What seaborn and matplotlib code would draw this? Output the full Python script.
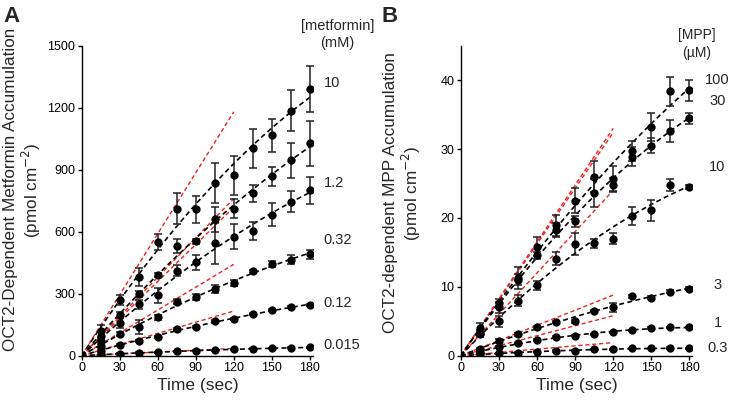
import numpy as np
import pandas as pd
import matplotlib
matplotlib.use("Agg")
import matplotlib.pyplot as plt
import seaborn as sns

# ---------------- data ----------------
time_s = [15, 30, 45, 60, 75, 90, 105, 120, 135, 150, 165, 180]

# Panel A: metformin (pmol cm^-2), six concentrations (top -> bottom)
metformin_labels = ["10", "1.2", "0.32", "0.12", "0.015"]
met_s1 = [120, 270, 380, 550, 712, 708, 835, 873, 1003, 1066, 1185, 1290]
met_s2 = [95, 198, 298, 390, 532, 553, 660, 711, 785, 868, 946, 1028]
met_s3 = [70, 158, 248, 292, 412, 452, 543, 576, 603, 683, 745, 800]
met_s4 = [45, 105, 140, 185, 262, 285, 321, 350, 408, 445, 465, 490]
met_s5 = [22, 52, 73, 92, 129, 140, 166, 176, 202, 219, 237, 245]
met_s6 = [4, 10, 15, 17, 22, 24, 27, 30, 33, 35, 38, 41]
met_e1 = [30, 25, 43, 40, 77, 65, 95, 95, 95, 80, 100, 110]
met_e2 = [20, 15, 15, 10, 35, 12, 60, 45, 40, 45, 85, 110]
met_e3 = [15, 25, 20, 35, 25, 35, 100, 60, 45, 55, 50, 65]
met_e4 = [10, 10, 35, 10, 10, 15, 20, 15, 8, 15, 20, 20]
met_e5 = [5, 5, 5, 5, 5, 5, 5, 5, 5, 5, 5, 5]
met_e6 = [2, 2, 2, 2, 2, 2, 2, 2, 2, 2, 2, 2]
# initial-rate lines: value reached at 120 s
met_initial_120 = [1180, 760, 718, 442, 216, 35]
met_label_y = [1320, 834, 560, 253, 52]

# Panel B: MPP (pmol cm^-2), six concentrations (top -> bottom)
mpp_labels = ["100", "30", "10", "3", "1", "0.3"]
mpp_s1 = [4.0, 7.7, 11.3, 15.8, 18.9, 22.5, 26.0, 25.7, 29.7, 33.2, 38.4, 38.5]
mpp_s2 = [3.3, 7.0, 11.0, 14.6, 18.3, 19.5, 23.6, 24.8, 28.9, 30.5, 32.6, 34.5]
mpp_s3 = [3.1, 5.0, 8.0, 10.2, 14.1, 16.2, 16.3, 17.0, 20.3, 21.1, 24.8, 24.5]
mpp_s4 = [0.9, 2.2, 3.1, 4.1, 4.9, 5.0, 6.5, 7.0, 8.6, 8.4, 9.3, 9.7]
mpp_s5 = [0.6, 1.3, 1.8, 2.3, 2.7, 2.9, 3.1, 3.4, 3.7, 4.0, 4.1, 4.1]
mpp_s6 = [0.25, 0.35, 0.45, 0.6, 0.7, 0.75, 0.9, 0.9, 1.05, 1.05, 1.1, 1.05]
mpp_e1 = [0.7, 0.5, 1.6, 1.4, 1.5, 1.8, 2.2, 1.8, 1.5, 2.0, 2.1, 1.5]
mpp_e2 = [0.5, 0.8, 0.8, 0.5, 1.0, 0.8, 2.0, 1.0, 1.4, 1.1, 1.6, 0.8]
mpp_e3 = [0.4, 0.8, 0.8, 0.6, 1.0, 1.6, 0.7, 0.8, 1.3, 1.5, 0.9, 0.3]
mpp_e4 = [0.2, 0.2, 0.2, 0.2, 0.2, 0.2, 0.2, 0.6, 0.2, 0.2, 0.2, 0.2]
mpp_e5 = [0.1] * 12
mpp_e6 = [0.1] * 12
mpp_initial_120 = [33.0, 32.4, 24.0, 8.8, 5.8, 1.9]
mpp_label_y = [40.0, 36.9, 27.4, 10.3, 4.7, 1.1]

# ---------------- style ----------------
sns.set_style("ticks")
plt.rcParams["font.family"] = ["Liberation Sans", "DejaVu Sans"]
plt.rcParams["axes.linewidth"] = 1.0

fig = plt.figure(figsize=(7.5, 4.03), dpi=100)
axA = fig.add_axes([0.1089, 0.1174, 0.4173 - 0.1089, 0.8866 - 0.1174])
axB = fig.add_axes([0.6143, 0.1174, 0.9227 - 0.6143, 0.8866 - 0.1174])

RED = "#e8231f"


def fit_curve(t, y):
    t = np.asarray(t, float)
    y = np.asarray(y, float)
    X = np.column_stack([t, t ** 2])
    coef, *_ = np.linalg.lstsq(X, y, rcond=None)
    tt = np.linspace(0, 180, 120)
    return tt, coef[0] * tt + coef[1] * tt ** 2


def draw_panel(ax, series, errors, initial):
    for y, e, v120 in zip(series, errors, initial):
        # initial-rate line (red)
        red = pd.DataFrame({"t": [0, 120], "y": [0, v120]})
        sns.lineplot(data=red, x="t", y="y", ax=ax, color=RED, lw=1.0,
                     linestyle=(0, (3, 2)), zorder=2)
        # fitted curve (black dashed)
        tt, yy = fit_curve(time_s, y)
        sns.lineplot(x=tt, y=yy, ax=ax, color="black", lw=1.2,
                     linestyle=(0, (3, 2)), zorder=3)
        # error bars + points
        ax.errorbar(time_s, y, yerr=e, fmt="none", ecolor="#222222",
                    elinewidth=1.1, capsize=3, capthick=1.1, zorder=4)
        sns.scatterplot(x=time_s, y=y, ax=ax, color="black", s=36,
                        edgecolor="black", linewidth=0, zorder=5)


draw_panel(axA,
           [met_s1, met_s2, met_s3, met_s4, met_s5, met_s6],
           [met_e1, met_e2, met_e3, met_e4, met_e5, met_e6],
           met_initial_120)
draw_panel(axB,
           [mpp_s1, mpp_s2, mpp_s3, mpp_s4, mpp_s5, mpp_s6],
           [mpp_e1, mpp_e2, mpp_e3, mpp_e4, mpp_e5, mpp_e6],
           mpp_initial_120)

for ax in (axA, axB):
    ax.set_xlim(0, 182.5)
    ax.set_xticks([0, 30, 60, 90, 120, 150, 180])
    ax.tick_params(labelsize=9, length=3, width=1, pad=1.5, colors="black")
    ax.set_xlabel("Time (sec)", fontsize=12.5, labelpad=3)
    sns.despine(ax=ax)
    for sp in ("left", "bottom"):
        ax.spines[sp].set_color("black")

axA.set_ylim(0, 1500)
axA.set_yticks([0, 300, 600, 900, 1200, 1500])
axA.set_ylabel("OCT2-Dependent Metformin Accumulation\n(pmol cm$^{-2}$)",
               fontsize=12.3, linespacing=1.1)
axA.yaxis.set_label_coords(-0.167, 0.535)

axB.set_xlim(0, 182)
axB.set_ylim(0, 45)
axB.set_yticks([0, 10, 20, 30, 40])
axB.set_ylabel("OCT2-dependent MPP Accumulation\n(pmol cm$^{-2}$)",
               fontsize=12.3, linespacing=1.1)
axB.yaxis.set_label_coords(-0.163, 0.525)

# concentration labels
for lab, yv in zip(metformin_labels, met_label_y):
    axA.text(191, yv, lab, fontsize=10.5, ha="left", va="center", clip_on=False)
axA.text(202, 1595, "[metformin]", fontsize=10.5, ha="center", va="center", clip_on=False)
axA.text(202, 1515, "(mM)", fontsize=10.5, ha="center", va="center", clip_on=False)

for lab, yv in zip(mpp_labels, mpp_label_y):
    axB.text(202, yv, lab, fontsize=10.5, ha="center", va="center", clip_on=False)
axB.text(186, 46.5, "[MPP]", fontsize=10, ha="center", va="center", clip_on=False)
axB.text(186, 44.0, "(\u00b5M)", fontsize=10, ha="center", va="center", clip_on=False)

# panel letters
fig.text(0.004, 0.985, "A", fontsize=16, fontweight="bold", ha="left", va="top")
fig.text(0.509, 0.985, "B", fontsize=16, fontweight="bold", ha="left", va="top")

fig.savefig("out.png", dpi=100)
